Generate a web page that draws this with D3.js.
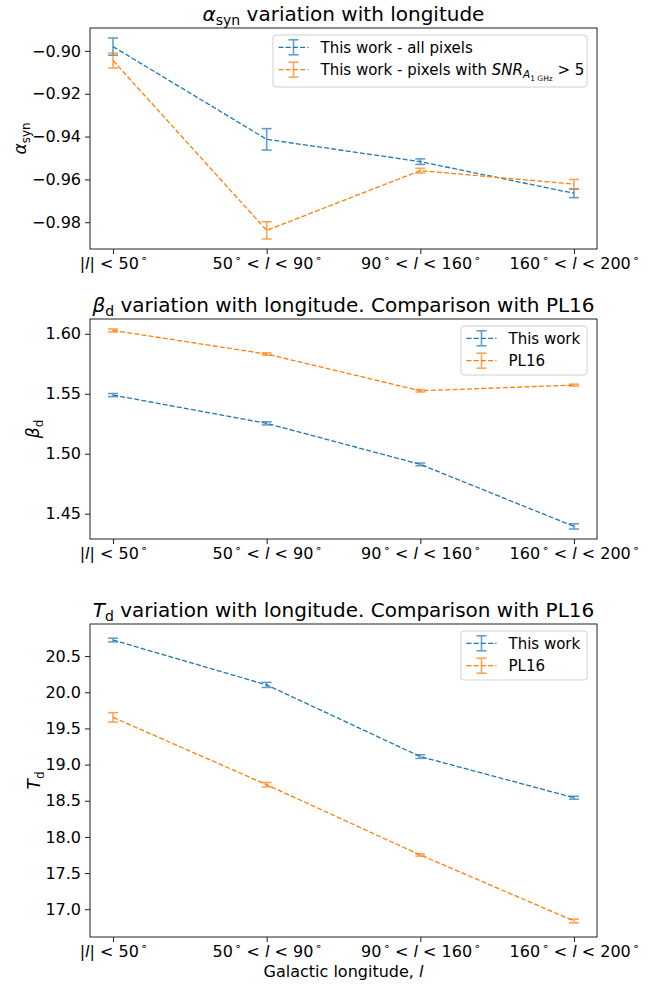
<!DOCTYPE html>
<html>
<head>
<meta charset="utf-8">
<script src="https://cdn.jsdelivr.net/npm/d3@7"></script>
<style>
  body { margin: 0; background: #fff; }
  text { font-family: "DejaVu Sans", sans-serif; fill: #000; }
</style>
</head>
<body>
<svg id="chart" width="650" height="985"></svg>
<script>
// categories on the x axis (l = galactic longitude)
const categories = ["|l| < 50°", "50° < l < 90°", "90° < l < 160°", "160° < l < 200°"];

// alpha_syn panel
const alphaAll = [-0.898, -0.9413, -0.9517, -0.9665];
const alphaAllErr = [0.004, 0.005, 0.0013, 0.002];
const alphaSnr = [-0.9045, -0.9838, -0.9559, -0.9622];
const alphaSnrErr = [0.0035, 0.004, 0.0011, 0.0022];
const alphaTicks = [-0.98, -0.96, -0.94, -0.92, -0.90];

// beta_d panel
const betaThis = [1.5489, 1.5253, 1.4911, 1.4394];
const betaThisErr = [0.0013, 0.0013, 0.0011, 0.0022];
const betaPL16 = [1.6028, 1.5831, 1.5525, 1.5572];
const betaPL16Err = [0.0012, 0.001, 0.001, 0.0008];
const betaTicks = [1.45, 1.50, 1.55, 1.60];

// T_d panel
const tempThis = [20.722, 20.102, 19.111, 18.542];
const tempThisErr = [0.025, 0.035, 0.025, 0.02];
const tempPL16 = [19.653, 18.722, 17.75, 16.838];
const tempPL16Err = [0.065, 0.03, 0.015, 0.025];
const tempTicks = [17.0, 17.5, 18.0, 18.5, 19.0, 19.5, 20.0, 20.5];

const blue = "#1f77b4", orange = "#ff7f0e";
const left = 90, right = 597;

const svg = d3.select("#chart");

// small helper for mathtext-like labels (italic, sub / sub-sub / superscript)
function levelOffset(lv, fs) {
    if (lv === 1) return 0.22 * fs;
    if (lv === 2) return 0.40 * fs;
    if (lv === -1) return -0.42 * fs;
    return 0;
}
function levelScale(lv) {
    if (lv === 1) return 0.7;
    if (lv === 2) return 0.5;
    if (lv === -1) return 0.7;
    return 1;
}
function richText(text, segs, fs) {
    let level = 0;
    segs.forEach(s => {
        let lv = s.lv || 0;
        text.append("tspan")
            .attr("dy", levelOffset(lv, fs) - levelOffset(level, fs))
            .attr("dx", s.dx || 0)
            .attr("font-size", fs * levelScale(lv))
            .style("font-style", s.it ? "italic" : "normal")
            .text(s.t);
        level = lv;
    });
}
function catSegs(str) {
    let segs = [];
    for (const ch of str) {
        if (ch === "l") segs.push({t: "l", it: true});
        else if (ch === "°") segs.push({t: "∘", lv: -1, dx: 1.5});
        else {
            let last = segs[segs.length - 1];
            if (last && !last.it && !last.lv) last.t += ch;
            else segs.push({t: ch});
        }
    }
    return segs;
}

const panels = [
    {
        top: 28, bottom: 249, fmt: ".2f", ticks: alphaTicks, ylabX: 26,
        title: [{t: "α", it: true}, {t: "syn", lv: 1}, {t: " variation with longitude"}],
        ylab: [{t: "α", it: true}, {t: "syn", lv: 1}],
        series: [
            {vals: alphaAll, err: alphaAllErr, color: blue,
             label: [{t: "This work - all pixels"}]},
            {vals: alphaSnr, err: alphaSnrErr, color: orange,
             label: [{t: "This work - pixels with "}, {t: "SNR", it: true}, {t: "A", it: true, lv: 1}, {t: "1 GHz", lv: 2}, {t: " > 5"}]}
        ],
        legend: {w: 314, h: 52}
    },
    {
        top: 319, bottom: 539, fmt: ".2f", ticks: betaTicks, ylabX: 39,
        title: [{t: "β", it: true}, {t: "d", lv: 1}, {t: " variation with longitude. Comparison with PL16"}],
        ylab: [{t: "β", it: true}, {t: "d", lv: 1}],
        series: [
            {vals: betaThis, err: betaThisErr, color: blue, label: [{t: "This work"}]},
            {vals: betaPL16, err: betaPL16Err, color: orange, label: [{t: "PL16"}]}
        ],
        legend: {w: 126, h: 49}
    },
    {
        top: 624, bottom: 937, fmt: ".1f", ticks: tempTicks, ylabX: 40,
        title: [{t: "T", it: true}, {t: "d", lv: 1}, {t: " variation with longitude. Comparison with PL16"}],
        ylab: [{t: "T", it: true}, {t: "d", lv: 1}],
        series: [
            {vals: tempThis, err: tempThisErr, color: blue, label: [{t: "This work"}]},
            {vals: tempPL16, err: tempPL16Err, color: orange, label: [{t: "PL16"}]}
        ],
        legend: {w: 126, h: 49}
    }
];

const x = d3.scalePoint().domain(categories).range([left, right]).padding(0.15);

function drawErrorSeries(g, s, y) {
    let pts = s.vals.map((v, i) => ({cat: categories[i], v: v, e: s.err[i]}));
    let line = d3.line().x(d => x(d.cat)).y(d => y(d.v));
    g.append("path")
        .datum(pts)
        .attr("d", line)
        .attr("fill", "none")
        .attr("stroke", s.color)
        .attr("stroke-width", 1.3)
        .attr("stroke-dasharray", "5,2.2");

    let eb = g.selectAll(null).data(pts).enter().append("g")
        .attr("stroke", s.color)
        .attr("opacity", 0.7)
        .attr("stroke-width", 1.6);
    eb.append("line")
        .attr("x1", d => x(d.cat)).attr("x2", d => x(d.cat))
        .attr("y1", d => y(d.v - d.e)).attr("y2", d => y(d.v + d.e));
    eb.append("line")
        .attr("x1", d => x(d.cat) - 5).attr("x2", d => x(d.cat) + 5)
        .attr("y1", d => y(d.v - d.e)).attr("y2", d => y(d.v - d.e));
    eb.append("line")
        .attr("x1", d => x(d.cat) - 5).attr("x2", d => x(d.cat) + 5)
        .attr("y1", d => y(d.v + d.e)).attr("y2", d => y(d.v + d.e));
}

panels.forEach((p, pi) => {
    let lo = d3.min(p.series, s => d3.min(s.vals, (v, i) => v - s.err[i]));
    let hi = d3.max(p.series, s => d3.max(s.vals, (v, i) => v + s.err[i]));
    let pad = (hi - lo) * 0.05;
    let y = d3.scaleLinear().domain([lo - pad, hi + pad]).range([p.bottom, p.top]);

    let g = svg.append("g");

    // y axis
    let yAxis = g.append("g")
        .attr("transform", `translate(${left},0)`)
        .call(d3.axisLeft(y).tickValues(p.ticks).tickFormat(d3.format(p.fmt)).tickSize(5).tickPadding(4));
    yAxis.select(".domain").remove();
    yAxis.selectAll("text").attr("font-size", 16).attr("font-family", "DejaVu Sans");
    yAxis.selectAll("line").attr("stroke", "#000").attr("stroke-width", 0.9);

    // x axis
    let xAxis = g.append("g")
        .attr("transform", `translate(0,${p.bottom})`)
        .call(d3.axisBottom(x).tickSize(5));
    xAxis.select(".domain").remove();
    xAxis.selectAll("line").attr("stroke", "#000").attr("stroke-width", 0.9);
    xAxis.selectAll("text").each(function(d) {
        let t = d3.select(this);
        t.text(null).attr("font-size", 16).attr("font-family", "DejaVu Sans")
            .attr("dy", null).attr("y", 20);
        richText(t, catSegs(d), 16);
    });

    // series
    p.series.forEach(s => drawErrorSeries(g, s, y));

    // frame
    g.append("rect")
        .attr("x", left).attr("y", p.top)
        .attr("width", right - left).attr("height", p.bottom - p.top)
        .attr("fill", "none").attr("stroke", "#222").attr("stroke-width", 1);

    // title
    let title = g.append("text")
        .attr("x", (left + right) / 2).attr("y", p.top - 7)
        .attr("text-anchor", "middle").attr("font-size", 20);
    richText(title, p.title, 20);

    // y label
    let yl = g.append("text")
        .attr("transform", `translate(${p.ylabX},${(p.top + p.bottom) / 2}) rotate(-90)`)
        .attr("text-anchor", "middle").attr("font-size", 17);
    richText(yl, p.ylab, 17);

    // legend
    let lx = right - 10 - p.legend.w, ly = p.top + 7;
    let lg = g.append("g").attr("transform", `translate(${lx},${ly})`);
    lg.append("rect")
        .attr("width", p.legend.w).attr("height", p.legend.h)
        .attr("rx", 3)
        .attr("fill", "#fff").attr("fill-opacity", 0.8)
        .attr("stroke", "#d0d0d0");
    p.series.forEach((s, i) => {
        let cy = 12.3 + i * 22.4;
        lg.append("line")
            .attr("x1", 5.5).attr("x2", 35.5).attr("y1", cy).attr("y2", cy)
            .attr("stroke", s.color).attr("stroke-width", 1.3)
            .attr("stroke-dasharray", "5,2.2");
        let h = lg.append("g").attr("stroke", s.color).attr("opacity", 0.7).attr("stroke-width", 1.6);
        h.append("line").attr("x1", 20.5).attr("x2", 20.5).attr("y1", cy - 7.5).attr("y2", cy + 7.5);
        h.append("line").attr("x1", 15.5).attr("x2", 25.5).attr("y1", cy - 7.5).attr("y2", cy - 7.5);
        h.append("line").attr("x1", 15.5).attr("x2", 25.5).attr("y1", cy + 7.5).attr("y2", cy + 7.5);
        let t = lg.append("text").attr("x", 47.5).attr("y", cy + 5.3).attr("font-size", 15);
        richText(t, s.label, 15);
    });
});

// shared x label
let xl = svg.append("text")
    .attr("x", (left + right) / 2).attr("y", 977)
    .attr("text-anchor", "middle").attr("font-size", 16);
richText(xl, [{t: "Galactic longitude, "}, {t: "l", it: true}], 16);
</script>
</body>
</html>
